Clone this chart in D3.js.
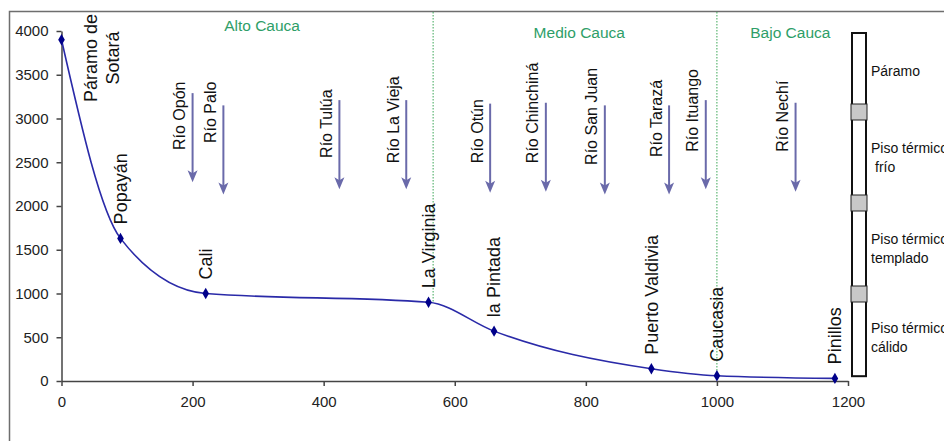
<!DOCTYPE html>
<html>
<head>
<meta charset="utf-8">
<script src="https://cdn.jsdelivr.net/npm/d3@7"></script>
<style>
  body { margin: 0; background: #fff; }
  svg { display: block; font-family: "Liberation Sans", Arial, sans-serif; }
</style>
</head>
<body>
<div id="chart"></div>
<script>
// towns along the Cauca river: distance (km) and altitude (m)
const towns = ["Páramo de Sotará", "Popayán", "Cali", "La Virginia", "la Pintada", "Puerto Valdivia", "Caucasia", "Pinillos"];
const distKm = [0, 90, 220, 560, 660, 900, 1000, 1180];
const altitude = [3900, 1630, 1000, 900, 570, 140, 60, 30];

// tributaries (arrow position in km, arrow top elevation, label end elevation)
const rivers = ["Río Opón", "Río Palo", "Río Tulúa", "Río La Vieja", "Río Otún", "Río Chinchiná", "Río San Juan", "Río Tarazá", "Río Ituango", "Río Nechí"];
const riverKm = [200, 247, 424, 526, 654, 739, 829, 927, 983, 1120];
const riverTop = [3290, 3150, 3210, 3210, 3170, 3180, 3150, 3150, 3210, 3180];
const riverLabelEnd = [2640, 2720, 2550, 2490, 2490, 2490, 2470, 2560, 2620, 2620];

// sections of the river
const sections = ["Alto Cauca", "Medio Cauca", "Bajo Cauca"];
const sectionKm = [306, 790, 1112];
const breakKm = [567, 1000];
const breakAlt = [900, 60];

// thermal floors (right bar)
const floors = [["Páramo"], ["Piso térmico", " frío"], ["Piso térmico", "templado"], ["Piso térmico", "cálido"]];
const floorBounds = [4000, 3080, 2040, 1000, 0];

const xTicks = [0, 200, 400, 600, 800, 1000, 1200];
const yTicks = [0, 500, 1000, 1500, 2000, 2500, 3000, 3500, 4000];

const width = 944, height = 441;

const svg = d3.select("#chart")
    .append("svg")
    .attr("width", width)
    .attr("height", height);

// outer frame (only top and left edges show)
svg.append("rect")
    .attr("x", 9.5).attr("y", 11.5)
    .attr("width", 1000).attr("height", 500)
    .attr("fill", "none")
    .attr("stroke", "#6e6e6e")
    .attr("stroke-width", 1.5);

const x = d3.scaleLinear().domain([0, 1200]).range([61.5, 848]);
const y = d3.scaleLinear().domain([0, 4000]).range([381, 31]);

// axes
const xAxis = svg.append("g")
    .attr("transform", `translate(0,${y(0)})`)
    .call(d3.axisBottom(x).tickValues(xTicks).tickFormat(d3.format("d")).tickSize(5).tickSizeOuter(0).tickPadding(10));
const yAxis = svg.append("g")
    .attr("transform", `translate(${x(0)},0)`)
    .call(d3.axisLeft(y).tickValues(yTicks).tickFormat(d3.format("d")).tickSize(5).tickSizeOuter(0).tickPadding(8));
[xAxis, yAxis].forEach(g => {
    g.selectAll("path, line").attr("stroke", "#444").attr("stroke-width", 1.5);
    g.selectAll("text").attr("fill", "#222").style("font-size", "15px").style("font-family", "Liberation Sans, Arial, sans-serif");
});

// section separators
svg.selectAll(".brk")
    .data(breakKm)
    .join("line")
    .attr("x1", d => x(d)).attr("x2", d => x(d))
    .attr("y1", 12).attr("y2", (d, i) => y(breakAlt[i]))
    .attr("stroke", "#3aa655")
    .attr("stroke-width", 1)
    .attr("stroke-dasharray", "1.5,1.5");

svg.selectAll(".sec")
    .data(sections)
    .join("text")
    .attr("x", (d, i) => x(sectionKm[i]))
    .attr("y", (d, i) => i === 0 ? 31 : 38)
    .attr("text-anchor", "middle")
    .attr("fill", "#2e9e68")
    .style("font-size", "15.5px")
    .text(d => d);

// profile line
const pts = distKm.map((d, i) => [d, altitude[i]]);
svg.append("path")
    .datum(pts)
    .attr("fill", "none")
    .attr("stroke", "#2a2aa8")
    .attr("stroke-width", 1.6)
    .attr("d", d3.line().x(d => x(d[0])).y(d => y(d[1])).curve(d3.curveMonotoneX));

svg.selectAll(".pt")
    .data(pts)
    .join("path")
    .attr("transform", d => `translate(${x(d[0])},${y(d[1])})`)
    .attr("d", d3.symbol(d3.symbolDiamond, 38))
    .attr("fill", "#00008a");

// town labels
towns.forEach((t, i) => {
    const px = x(distKm[i]), py = y(altitude[i]);
    if (i === 0) {
        const txt = svg.append("text")
            .attr("transform", `translate(${px + 29},58) rotate(-90)`)
            .attr("text-anchor", "middle")
            .attr("fill", "#111")
            .style("font-size", "18px");
        txt.append("tspan").attr("x", 0).attr("dy", "0.35em").text("Páramo de");
        txt.append("tspan").attr("x", 0).attr("dy", "1.25em").text("Sotará");
    } else {
        svg.append("text")
            .attr("transform", `translate(${px},${py - 14}) rotate(-90)`)
            .attr("dy", "0.35em")
            .attr("fill", "#111")
            .style("font-size", "18px")
            .text(t);
    }
});

// tributary arrows
const arrowColor = "#6a6aaa";
rivers.forEach((r, i) => {
    const ax = x(riverKm[i]);
    const top = y(riverTop[i]);
    const bot = top + 89;
    svg.append("line")
        .attr("x1", ax).attr("x2", ax)
        .attr("y1", top).attr("y2", bot - 8)
        .attr("stroke", arrowColor)
        .attr("stroke-width", 2);
    svg.append("path")
        .attr("d", `M${ax - 5},${bot - 12} L${ax},${bot - 9} L${ax + 5},${bot - 12} L${ax},${bot} Z`)
        .attr("fill", arrowColor);
    svg.append("text")
        .attr("transform", `translate(${ax - 13},${y(riverLabelEnd[i])}) rotate(-90)`)
        .attr("dy", "0.35em")
        .attr("fill", "#111")
        .style("font-size", "16px")
        .text(r);
});

// thermal floor bar
const barX = 852, barW = 14;
svg.append("rect")
    .attr("x", barX).attr("y", y(4000) + 2)
    .attr("width", barW).attr("height", y(55) - y(4000) - 2)
    .attr("fill", "#fff")
    .attr("stroke", "#111")
    .attr("stroke-width", 2);

svg.selectAll(".blk")
    .data(floorBounds.slice(1, 4))
    .join("rect")
    .attr("x", barX - 1).attr("y", d => y(d) - 7.5)
    .attr("width", barW + 2).attr("height", 16)
    .attr("fill", "#c8c8c8")
    .attr("stroke", "#222")
    .attr("stroke-width", 1);

floors.forEach((lines, i) => {
    const mid = y((floorBounds[i] + floorBounds[i + 1]) / 2);
    const t = svg.append("text")
        .attr("fill", "#111")
        .style("font-size", "14px");
    lines.forEach((l, j) => {
        t.append("tspan")
            .attr("x", l.startsWith(" ") ? 875 : 871)
            .attr("y", mid + 5 + (j - (lines.length - 1) / 2) * 19)
            .text(l.trim());
    });
});
</script>
</body>
</html>
